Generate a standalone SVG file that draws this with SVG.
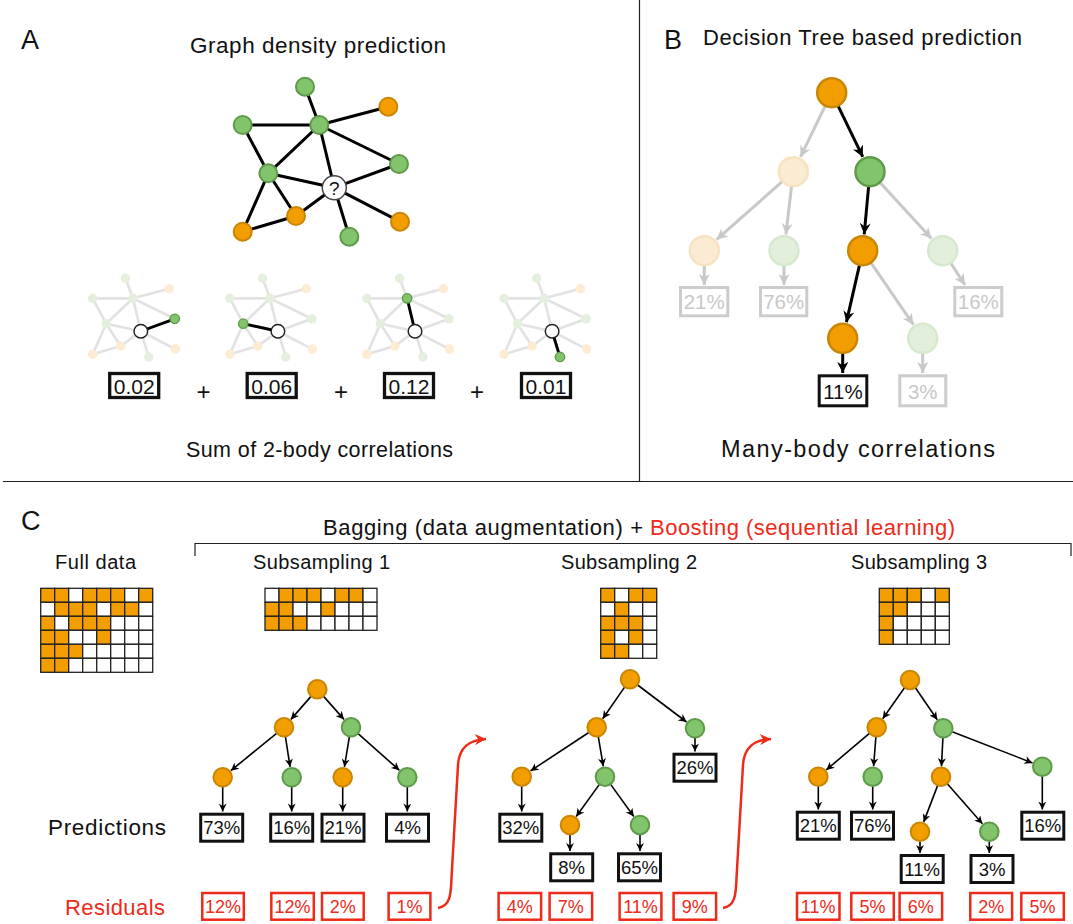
<svg xmlns="http://www.w3.org/2000/svg" xmlns:xlink="http://www.w3.org/1999/xlink" width="1073" height="924" viewBox="0 0 1073 924">
<style>
.t{font-family:"Liberation Sans",Arial,Helvetica,sans-serif;fill:#111}
.mid{text-anchor:middle}
.red{fill:#ee2a1a}
.no{fill:#f29d00;stroke:#c98600;stroke-width:2}
.ng{fill:#82c46c;stroke:#5e9a4a;stroke-width:2}
.bno{fill:#f29d00;stroke:#c98600;stroke-width:2.5}
.bng{fill:#82c46c;stroke:#5e9a4a;stroke-width:2.5}
.fo{fill:#fcebd3;stroke:#f8e2c0;stroke-width:2.5}
.fg{fill:#e2efdb;stroke:#d6e8cd;stroke-width:2.5}
.e{stroke:#000;stroke-width:1.6;fill:none;marker-end:url(#ah)}
.eb{stroke:#000;stroke-width:3;fill:none;marker-end:url(#ahB)}
.eg{stroke:#c8c8c8;stroke-width:3;fill:none;marker-end:url(#ahG)}
.box{fill:#fff;stroke:#111;stroke-width:3}
.gbox{fill:#fff;stroke:#cccccc;stroke-width:3}
.gtx{fill:#c8c8c8}
.rbox{fill:#fff;stroke:#ee2a1a;stroke-width:2.5}
.pct{font-size:18.5px;text-anchor:middle}
.rp{font-size:18px;text-anchor:middle;fill:#ee2a1a}
.cell{stroke:#222;stroke-width:1.3}
.o{fill:#f29d00}
.w{fill:#fff}
.ge{stroke:#000;stroke-width:3;fill:none}
.fe{stroke:#e2e2e2;stroke-width:5;fill:none}
.sfo{fill:#fdebd3}
.sfg{fill:#e4f0dd}
.line{stroke:#222;stroke-width:1.2;fill:none}
.vbox{fill:#fff;stroke:#111;stroke-width:3.3}
</style>
<defs>
<marker id="ah" viewBox="0 0 10 10" refX="10" refY="5" markerWidth="9" markerHeight="8" markerUnits="userSpaceOnUse" orient="auto"><path d="M0,0 L10,5 L0,10 L3,5 z" fill="#000"/></marker>
<marker id="ahB" viewBox="0 0 10 10" refX="10" refY="5" markerWidth="13" markerHeight="11" markerUnits="userSpaceOnUse" orient="auto"><path d="M0,0 L10,5 L0,10 L3,5 z" fill="#000"/></marker>
<marker id="ahG" viewBox="0 0 10 10" refX="10" refY="5" markerWidth="13" markerHeight="11" markerUnits="userSpaceOnUse" orient="auto"><path d="M0,0 L10,5 L0,10 L3,5 z" fill="#c8c8c8"/></marker>
<marker id="ahR" viewBox="0 0 10 10" refX="10" refY="5" markerWidth="13" markerHeight="11" markerUnits="userSpaceOnUse" orient="auto"><path d="M0,0 L10,5 L0,10 L3,5 z" fill="#ee2a1a"/></marker>
<path id="gEdges" d="M305,86.7L319.3,125 M319.3,125L388.3,106.7 M242.7,125L319.3,125 M242.7,125L268.3,173.3 M319.3,125L268.3,173.3 M319.3,125L334.3,187.7 M319.3,125L399,164 M268.3,173.3L334.3,187.7 M268.3,173.3L296,216 M268.3,173.3L242.7,231.7 M242.7,231.7L296,216 M296,216L334.3,187.7 M334.3,187.7L399,164 M334.3,187.7L400,221.7 M334.3,187.7L349.3,236.7"/>
<g id="fadedGraph">
<use xlink:href="#gEdges" class="fe"/>
<circle cx="305" cy="86.7" r="9" class="sfg"/>
<circle cx="388.3" cy="106.7" r="9" class="sfo"/>
<circle cx="242.7" cy="125" r="9" class="sfg"/>
<circle cx="319.3" cy="125" r="9" class="sfg"/>
<circle cx="399" cy="164" r="9" class="sfg"/>
<circle cx="268.3" cy="173.3" r="9" class="sfg"/>
<circle cx="296" cy="216" r="9" class="sfo"/>
<circle cx="400" cy="221.7" r="9" class="sfo"/>
<circle cx="242.7" cy="231.7" r="9" class="sfo"/>
<circle cx="349.3" cy="236.7" r="9" class="sfg"/>
</g>
</defs>
<rect width="1073" height="924" fill="#fff"/>

<g id="dividers">
<path class="line" d="M639.5,0V481.5 M3,481.5H1073"/>
<path class="line" d="M195,556V543.5H1071V556"/>
</g>

<g id="labels">
<text class="t" x="21" y="49" font-size="27">A</text>
<text class="t mid" x="318" y="53" font-size="22.5" textLength="256" lengthAdjust="spacing">Graph density prediction</text>
<text class="t mid" x="319.5" y="457" font-size="21.5" textLength="267" lengthAdjust="spacing">Sum of 2-body correlations</text>
<text class="t" x="664" y="49" font-size="27">B</text>
<text class="t" x="703" y="45" font-size="22" textLength="319" lengthAdjust="spacing">Decision Tree based prediction</text>
<text class="t mid" x="858" y="457" font-size="23.5" textLength="274" lengthAdjust="spacing">Many-body correlations</text>
<text class="t" x="21" y="530" font-size="27">C</text>
<text class="t" x="323" y="535" font-size="22" textLength="320" lengthAdjust="spacing">Bagging (data augmentation) +</text>
<text class="t red" x="650" y="535" font-size="22" textLength="305" lengthAdjust="spacing">Boosting (sequential learning)</text>
<text class="t mid" x="95.5" y="569" font-size="20" textLength="81" lengthAdjust="spacing">Full data</text>
<text class="t mid" x="321.5" y="569" font-size="20" textLength="137" lengthAdjust="spacing">Subsampling 1</text>
<text class="t mid" x="629" y="569" font-size="20" textLength="136" lengthAdjust="spacing">Subsampling 2</text>
<text class="t mid" x="919" y="569" font-size="20" textLength="136" lengthAdjust="spacing">Subsampling 3</text>
<text class="t" x="48" y="835" font-size="22.5" textLength="118" lengthAdjust="spacing">Predictions</text>
<text class="t red" x="65" y="915" font-size="22" textLength="100" lengthAdjust="spacing">Residuals</text>
</g>

<g id="graphA">
<use xlink:href="#gEdges" class="ge"/>
<g id="a-gT"><circle cx="305" cy="86.7" r="9" class="ng"/></g>
<g id="a-oTR"><circle cx="388.3" cy="106.7" r="9" class="no"/></g>
<g id="a-gL"><circle cx="242.7" cy="125" r="9" class="ng"/></g>
<g id="a-hub"><circle cx="319.3" cy="125" r="9" class="ng"/></g>
<g id="a-gR"><circle cx="399" cy="164" r="9" class="ng"/></g>
<g id="a-gML"><circle cx="268.3" cy="173.3" r="9" class="ng"/></g>
<g id="a-oM"><circle cx="296" cy="216" r="9" class="no"/></g>
<g id="a-oRB"><circle cx="400" cy="221.7" r="9" class="no"/></g>
<g id="a-oBL"><circle cx="242.7" cy="231.7" r="9" class="no"/></g>
<g id="a-gB"><circle cx="349.3" cy="236.7" r="9" class="ng"/></g>
<g id="a-Q"><circle cx="334.3" cy="187.7" r="12" fill="#fff" stroke="#444" stroke-width="1.5"/><text class="t mid" x="334.3" y="194.5" font-size="19">?</text></g>
</g>

<g id="pairs">
<g id="pair1" transform="translate(-34.7,232.7) scale(0.525)">
<use xlink:href="#fadedGraph"/>
<path d="M334.3,187.7L399,164" stroke="#000" stroke-width="5.5"/>
<circle cx="399" cy="164" r="9" fill="#82c46c" stroke="#5e9a4a" stroke-width="2.5"/>
<circle cx="334.3" cy="187.7" r="13" fill="#fff" stroke="#222" stroke-width="2.8"/>
</g>
<g id="pair2" transform="translate(102.4,232.7) scale(0.525)">
<use xlink:href="#fadedGraph"/>
<path d="M268.3,173.3L334.3,187.7" stroke="#000" stroke-width="5.5"/>
<circle cx="268.3" cy="173.3" r="9" fill="#82c46c" stroke="#5e9a4a" stroke-width="2.5"/>
<circle cx="334.3" cy="187.7" r="13" fill="#fff" stroke="#222" stroke-width="2.8"/>
</g>
<g id="pair3" transform="translate(239.5,232.7) scale(0.525)">
<use xlink:href="#fadedGraph"/>
<path d="M319.3,125L334.3,187.7" stroke="#000" stroke-width="5.5"/>
<circle cx="319.3" cy="125" r="9" fill="#82c46c" stroke="#5e9a4a" stroke-width="2.5"/>
<circle cx="334.3" cy="187.7" r="13" fill="#fff" stroke="#222" stroke-width="2.8"/>
</g>
<g id="pair4" transform="translate(376.6,232.7) scale(0.525)">
<use xlink:href="#fadedGraph"/>
<path d="M334.3,187.7L349.3,236.7" stroke="#000" stroke-width="5.5"/>
<circle cx="349.3" cy="236.7" r="9" fill="#82c46c" stroke="#5e9a4a" stroke-width="2.5"/>
<circle cx="334.3" cy="187.7" r="13" fill="#fff" stroke="#222" stroke-width="2.8"/>
</g>
</g>

<g id="sumValues">
<g id="v1"><rect x="109.7" y="373.5" width="49" height="24" class="vbox"/><text class="t mid" x="134.2" y="393.5" font-size="21">0.02</text></g>
<text class="t mid" x="203.5" y="400" font-size="24">+</text>
<g id="v2"><rect x="247.2" y="373.5" width="49" height="24" class="vbox"/><text class="t mid" x="271.7" y="393.5" font-size="21">0.06</text></g>
<text class="t mid" x="341" y="400" font-size="24">+</text>
<g id="v3"><rect x="384.5" y="373.5" width="49" height="24" class="vbox"/><text class="t mid" x="409" y="393.5" font-size="21">0.12</text></g>
<text class="t mid" x="477" y="400" font-size="24">+</text>
<g id="v4"><rect x="521.5" y="373.5" width="49" height="24" class="vbox"/><text class="t mid" x="546" y="393.5" font-size="21">0.01</text></g>
</g>

<g id="treeB-edges">
<path class="eg" d="M825.1,106.2L800.5,156.9"/>
<path class="eb" d="M838.2,106.2L862.8,156.9"/>
<path class="eg" d="M782.1,181.7L716.6,239.7"/>
<path class="eg" d="M791.5,186.6L785.9,234.3"/>
<path class="eb" d="M868.6,186.6L864.2,234.3"/>
<path class="eg" d="M880.2,182.7L931.5,238.6"/>
<path class="eg" d="M704.3,265.2V285"/>
<path class="eg" d="M784,265.2V285"/>
<path class="eg" d="M950.6,262.9L965,285"/>
<path class="eb" d="M859.4,265.3L846.4,322.2"/>
<path class="eg" d="M871.2,263.1L913.4,324.7"/>
<path class="eb" d="M842.7,352.8V373"/>
<path class="eg" d="M922.7,352.8V373"/>
</g>
<g id="treeB-nodes">
<g id="b-root"><circle cx="831.7" cy="92.7" r="14.5" class="bno"/></g>
<g id="b-l1f"><circle cx="793.3" cy="171.7" r="14.5" class="fo"/></g>
<g id="b-l1g"><circle cx="870" cy="171.7" r="14.5" class="bng"/></g>
<g id="b-m1"><circle cx="704.3" cy="250.7" r="14.5" class="fo"/></g>
<g id="b-m2"><circle cx="784" cy="250.7" r="14.5" class="fg"/></g>
<g id="b-m3"><circle cx="862.7" cy="250.7" r="14.5" class="bno"/></g>
<g id="b-m4"><circle cx="942.7" cy="250.7" r="14.5" class="fg"/></g>
<g id="b-n1"><circle cx="842.7" cy="338.3" r="14.5" class="bno"/></g>
<g id="b-n2"><circle cx="922.7" cy="338.3" r="14.5" class="fg"/></g>
<g id="b-box21"><rect x="680.5" y="287.5" width="47.3" height="28.3" class="gbox"/><text class="t mid gtx" x="704.2" y="309" font-size="20.5">21%</text></g>
<g id="b-box76"><rect x="760.5" y="287.5" width="46.3" height="28.3" class="gbox"/><text class="t mid gtx" x="783.7" y="309" font-size="20.5">76%</text></g>
<g id="b-box16"><rect x="954.8" y="287.5" width="47" height="28.3" class="gbox"/><text class="t mid gtx" x="978.3" y="309" font-size="20.5">16%</text></g>
<g id="b-box11"><rect x="819.2" y="375.8" width="47.6" height="30" class="box"/><text class="t mid" x="843" y="398.5" font-size="20.5">11%</text></g>
<g id="b-box3"><rect x="899.8" y="375.8" width="46" height="30" class="gbox"/><text class="t mid gtx" x="922.8" y="398.5" font-size="20.5">3%</text></g>
</g>

<g id="grids">
<g id="grid-full" class="cell">
<rect x="40.7" y="588.3" width="14" height="14" class="o"/><rect x="54.7" y="588.3" width="14" height="14" class="o"/><rect x="68.7" y="588.3" width="14" height="14" class="w"/><rect x="82.7" y="588.3" width="14" height="14" class="o"/><rect x="96.7" y="588.3" width="14" height="14" class="o"/><rect x="110.7" y="588.3" width="14" height="14" class="o"/><rect x="124.7" y="588.3" width="14" height="14" class="w"/><rect x="138.7" y="588.3" width="14" height="14" class="o"/>
<rect x="40.7" y="602.3" width="14" height="14" class="w"/><rect x="54.7" y="602.3" width="14" height="14" class="o"/><rect x="68.7" y="602.3" width="14" height="14" class="o"/><rect x="82.7" y="602.3" width="14" height="14" class="o"/><rect x="96.7" y="602.3" width="14" height="14" class="w"/><rect x="110.7" y="602.3" width="14" height="14" class="o"/><rect x="124.7" y="602.3" width="14" height="14" class="o"/><rect x="138.7" y="602.3" width="14" height="14" class="w"/>
<rect x="40.7" y="616.3" width="14" height="14" class="o"/><rect x="54.7" y="616.3" width="14" height="14" class="w"/><rect x="68.7" y="616.3" width="14" height="14" class="o"/><rect x="82.7" y="616.3" width="14" height="14" class="o"/><rect x="96.7" y="616.3" width="14" height="14" class="o"/><rect x="110.7" y="616.3" width="14" height="14" class="w"/><rect x="124.7" y="616.3" width="14" height="14" class="w"/><rect x="138.7" y="616.3" width="14" height="14" class="w"/>
<rect x="40.7" y="630.3" width="14" height="14" class="o"/><rect x="54.7" y="630.3" width="14" height="14" class="o"/><rect x="68.7" y="630.3" width="14" height="14" class="w"/><rect x="82.7" y="630.3" width="14" height="14" class="w"/><rect x="96.7" y="630.3" width="14" height="14" class="o"/><rect x="110.7" y="630.3" width="14" height="14" class="w"/><rect x="124.7" y="630.3" width="14" height="14" class="w"/><rect x="138.7" y="630.3" width="14" height="14" class="w"/>
<rect x="40.7" y="644.3" width="14" height="14" class="o"/><rect x="54.7" y="644.3" width="14" height="14" class="o"/><rect x="68.7" y="644.3" width="14" height="14" class="o"/><rect x="82.7" y="644.3" width="14" height="14" class="w"/><rect x="96.7" y="644.3" width="14" height="14" class="w"/><rect x="110.7" y="644.3" width="14" height="14" class="w"/><rect x="124.7" y="644.3" width="14" height="14" class="w"/><rect x="138.7" y="644.3" width="14" height="14" class="w"/>
<rect x="40.7" y="658.3" width="14" height="14" class="o"/><rect x="54.7" y="658.3" width="14" height="14" class="o"/><rect x="68.7" y="658.3" width="14" height="14" class="w"/><rect x="82.7" y="658.3" width="14" height="14" class="w"/><rect x="96.7" y="658.3" width="14" height="14" class="w"/><rect x="110.7" y="658.3" width="14" height="14" class="w"/><rect x="124.7" y="658.3" width="14" height="14" class="w"/><rect x="138.7" y="658.3" width="14" height="14" class="w"/>
</g>
<g id="grid-s1" class="cell">
<rect x="265" y="588.3" width="14" height="14" class="w"/><rect x="279" y="588.3" width="14" height="14" class="o"/><rect x="293" y="588.3" width="14" height="14" class="o"/><rect x="307" y="588.3" width="14" height="14" class="o"/><rect x="321" y="588.3" width="14" height="14" class="w"/><rect x="335" y="588.3" width="14" height="14" class="o"/><rect x="349" y="588.3" width="14" height="14" class="o"/><rect x="363" y="588.3" width="14" height="14" class="w"/>
<rect x="265" y="602.3" width="14" height="14" class="o"/><rect x="279" y="602.3" width="14" height="14" class="o"/><rect x="293" y="602.3" width="14" height="14" class="w"/><rect x="307" y="602.3" width="14" height="14" class="w"/><rect x="321" y="602.3" width="14" height="14" class="o"/><rect x="335" y="602.3" width="14" height="14" class="w"/><rect x="349" y="602.3" width="14" height="14" class="w"/><rect x="363" y="602.3" width="14" height="14" class="w"/>
<rect x="265" y="616.3" width="14" height="14" class="o"/><rect x="279" y="616.3" width="14" height="14" class="o"/><rect x="293" y="616.3" width="14" height="14" class="o"/><rect x="307" y="616.3" width="14" height="14" class="w"/><rect x="321" y="616.3" width="14" height="14" class="w"/><rect x="335" y="616.3" width="14" height="14" class="w"/><rect x="349" y="616.3" width="14" height="14" class="w"/><rect x="363" y="616.3" width="14" height="14" class="w"/>
</g>
<g id="grid-s2" class="cell">
<rect x="600.7" y="588.3" width="14" height="14" class="o"/><rect x="614.7" y="588.3" width="14" height="14" class="w"/><rect x="628.7" y="588.3" width="14" height="14" class="o"/><rect x="642.7" y="588.3" width="14" height="14" class="o"/>
<rect x="600.7" y="602.3" width="14" height="14" class="w"/><rect x="614.7" y="602.3" width="14" height="14" class="o"/><rect x="628.7" y="602.3" width="14" height="14" class="w"/><rect x="642.7" y="602.3" width="14" height="14" class="w"/>
<rect x="600.7" y="616.3" width="14" height="14" class="o"/><rect x="614.7" y="616.3" width="14" height="14" class="o"/><rect x="628.7" y="616.3" width="14" height="14" class="o"/><rect x="642.7" y="616.3" width="14" height="14" class="w"/>
<rect x="600.7" y="630.3" width="14" height="14" class="o"/><rect x="614.7" y="630.3" width="14" height="14" class="w"/><rect x="628.7" y="630.3" width="14" height="14" class="o"/><rect x="642.7" y="630.3" width="14" height="14" class="w"/>
<rect x="600.7" y="644.3" width="14" height="14" class="o"/><rect x="614.7" y="644.3" width="14" height="14" class="o"/><rect x="628.7" y="644.3" width="14" height="14" class="w"/><rect x="642.7" y="644.3" width="14" height="14" class="w"/>
</g>
<g id="grid-s3" class="cell">
<rect x="879.3" y="588.3" width="14" height="14" class="o"/><rect x="893.3" y="588.3" width="14" height="14" class="o"/><rect x="907.3" y="588.3" width="14" height="14" class="o"/><rect x="921.3" y="588.3" width="14" height="14" class="w"/><rect x="935.3" y="588.3" width="14" height="14" class="o"/>
<rect x="879.3" y="602.3" width="14" height="14" class="o"/><rect x="893.3" y="602.3" width="14" height="14" class="o"/><rect x="907.3" y="602.3" width="14" height="14" class="w"/><rect x="921.3" y="602.3" width="14" height="14" class="w"/><rect x="935.3" y="602.3" width="14" height="14" class="w"/>
<rect x="879.3" y="616.3" width="14" height="14" class="o"/><rect x="893.3" y="616.3" width="14" height="14" class="w"/><rect x="907.3" y="616.3" width="14" height="14" class="w"/><rect x="921.3" y="616.3" width="14" height="14" class="w"/><rect x="935.3" y="616.3" width="14" height="14" class="w"/>
<rect x="879.3" y="630.3" width="14" height="14" class="o"/><rect x="893.3" y="630.3" width="14" height="14" class="w"/><rect x="907.3" y="630.3" width="14" height="14" class="w"/><rect x="921.3" y="630.3" width="14" height="14" class="w"/><rect x="935.3" y="630.3" width="14" height="14" class="w"/>
</g>
</g>

<g id="connectors">
<path class="e" d="M311,696.4L290.9,719.4"/>
<path class="e" d="M323.6,696.4L344,719.4"/>
<path class="e" d="M276.6,733.3L230.8,770.7"/>
<path class="e" d="M285.4,736.7L290.1,766.9"/>
<path class="e" d="M349.4,736.7L344.4,766.9"/>
<path class="e" d="M358.1,733.6L399.4,770.3"/>
<path class="e" d="M222.7,786.8V811.5"/>
<path class="e" d="M291.7,786.8V811.5"/>
<path class="e" d="M342.7,786.8V811.5"/>
<path class="e" d="M407.3,786.8V811.5"/>

<path class="e" d="M624.6,687.1L602.7,718.7"/>
<path class="e" d="M637.6,685L686.6,722"/>
<path class="e" d="M588.8,732.5L530.5,770.9"/>
<path class="e" d="M598.3,736.7L603.3,766.3"/>
<path class="e" d="M599.4,784.4L576.2,816.5"/>
<path class="e" d="M610.6,784.4L633.8,816.5"/>
<path class="e" d="M695,737.8V751.5"/>
<path class="e" d="M521.7,786.2V811.5"/>
<path class="e" d="M570,834.5V851"/>
<path class="e" d="M640,834.5V851"/>

<path class="e" d="M904.5,687.8L882.7,718.7"/>
<path class="e" d="M915.4,687.8L937.3,719.7"/>
<path class="e" d="M869.4,733.4L826.3,769.9"/>
<path class="e" d="M875.9,736.8L873.6,766.2"/>
<path class="e" d="M942.9,737.8L941.5,766.2"/>
<path class="e" d="M952.2,731.7L1032.5,762.9"/>
<path class="e" d="M937.6,785.6L923.7,821.9"/>
<path class="e" d="M947.3,783.8L982.4,823.8"/>
<path class="e" d="M818.3,786.2V809.5"/>
<path class="e" d="M872.7,786.2V809.5"/>
<path class="e" d="M1042.3,776.2V809.5"/>
<path class="e" d="M920,841.2V853"/>
<path class="e" d="M989.3,841.2V853"/>

<path d="M438,908 C450,906 451,895 451.5,878 L458,765 C459,748 468,740 486,739" stroke="#ee2a1a" stroke-width="2.5" fill="none" marker-end="url(#ahR)"/>
<path d="M723,908 C735,906 736,895 736.5,878 L743,765 C744,748 753,740 771,739" stroke="#ee2a1a" stroke-width="2.5" fill="none" marker-end="url(#ahR)"/>
</g>

<g id="tree1">
<g id="t1-root"><circle cx="317.3" cy="689.3" r="9.3" class="no"/></g>
<g id="t1-a"><circle cx="284" cy="727.3" r="9.3" class="no"/></g>
<g id="t1-b"><circle cx="351" cy="727.3" r="9.3" class="ng"/></g>
<g id="t1-c1"><circle cx="222.7" cy="777.3" r="9.3" class="no"/></g>
<g id="t1-c2"><circle cx="291.7" cy="777.3" r="9.3" class="ng"/></g>
<g id="t1-c3"><circle cx="342.7" cy="777.3" r="9.3" class="no"/></g>
<g id="t1-c4"><circle cx="407.3" cy="777.3" r="9.3" class="ng"/></g>
<g id="t1-p1"><rect x="200.7" y="814.2" width="42" height="27" class="box"/><text class="t pct" x="221.7" y="834.3">73%</text></g>
<g id="t1-p2"><rect x="270.7" y="814.2" width="42" height="27" class="box"/><text class="t pct" x="291.7" y="834.3">16%</text></g>
<g id="t1-p3"><rect x="322" y="814.2" width="42" height="27" class="box"/><text class="t pct" x="343" y="834.3">21%</text></g>
<g id="t1-p4"><rect x="386.5" y="814.2" width="42" height="27" class="box"/><text class="t pct" x="407.5" y="834.3">4%</text></g>
</g>

<g id="tree2">
<g id="t2-root"><circle cx="630" cy="679.3" r="9.3" class="no"/></g>
<g id="t2-a"><circle cx="596.7" cy="727.3" r="9.3" class="no"/></g>
<g id="t2-b"><circle cx="695" cy="728.3" r="9.3" class="ng"/></g>
<g id="t2-c1"><circle cx="521.7" cy="776.7" r="9.3" class="no"/></g>
<g id="t2-c2"><circle cx="605" cy="776.7" r="9.3" class="ng"/></g>
<g id="t2-d1"><circle cx="570" cy="825" r="9.3" class="no"/></g>
<g id="t2-d2"><circle cx="640" cy="825" r="9.3" class="ng"/></g>
<g id="t2-p26"><rect x="674" y="754.2" width="42" height="27" class="box"/><text class="t pct" x="695" y="774.3">26%</text></g>
<g id="t2-p32"><rect x="499.8" y="814.2" width="42" height="27" class="box"/><text class="t pct" x="520.8" y="834.3">32%</text></g>
<g id="t2-p8"><rect x="550.7" y="853.8" width="42" height="27" class="box"/><text class="t pct" x="571.7" y="874">8%</text></g>
<g id="t2-p65"><rect x="618.5" y="853.8" width="42" height="27" class="box"/><text class="t pct" x="639.5" y="874">65%</text></g>
</g>

<g id="tree3">
<g id="t3-root"><circle cx="910" cy="680" r="9.3" class="no"/></g>
<g id="t3-a"><circle cx="876.7" cy="727.3" r="9.3" class="no"/></g>
<g id="t3-b"><circle cx="943.3" cy="728.3" r="9.3" class="ng"/></g>
<g id="t3-c1"><circle cx="818.3" cy="776.7" r="9.3" class="no"/></g>
<g id="t3-c2"><circle cx="872.7" cy="776.7" r="9.3" class="ng"/></g>
<g id="t3-c3"><circle cx="941" cy="776.7" r="9.3" class="no"/></g>
<g id="t3-c4"><circle cx="1042.3" cy="766.7" r="9.3" class="ng"/></g>
<g id="t3-d1"><circle cx="920" cy="831.7" r="9.3" class="no"/></g>
<g id="t3-d2"><circle cx="989.3" cy="831.7" r="9.3" class="ng"/></g>
<g id="t3-p21"><rect x="797.3" y="812.2" width="42" height="27" class="box"/><text class="t pct" x="818.3" y="832.3">21%</text></g>
<g id="t3-p76"><rect x="851.5" y="812.2" width="42" height="27" class="box"/><text class="t pct" x="872.5" y="832.3">76%</text></g>
<g id="t3-p16"><rect x="1021.8" y="812.2" width="42" height="27" class="box"/><text class="t pct" x="1042.8" y="832.3">16%</text></g>
<g id="t3-p11"><rect x="901.2" y="855.5" width="42" height="27" class="box"/><text class="t pct" x="922.2" y="875.8">11%</text></g>
<g id="t3-p3"><rect x="971" y="855.5" width="42" height="27" class="box"/><text class="t pct" x="992" y="875.8">3%</text></g>
</g>

<g id="residuals">
<g id="r1"><rect x="202.3" y="893" width="41.5" height="26.7" class="rbox"/><text class="t rp" x="223" y="913">12%</text></g>
<g id="r2"><rect x="271.3" y="893" width="42.5" height="26.7" class="rbox"/><text class="t rp" x="292.5" y="913">12%</text></g>
<g id="r3"><rect x="322" y="893" width="41.7" height="26.7" class="rbox"/><text class="t rp" x="342.8" y="913">2%</text></g>
<g id="r4"><rect x="388.6" y="893" width="41.8" height="26.7" class="rbox"/><text class="t rp" x="409.5" y="913">1%</text></g>
<g id="r5"><rect x="498.6" y="893" width="42.5" height="26.7" class="rbox"/><text class="t rp" x="519.8" y="913">4%</text></g>
<g id="r6"><rect x="549.6" y="893" width="42.5" height="26.7" class="rbox"/><text class="t rp" x="570.8" y="913">7%</text></g>
<g id="r7"><rect x="619.6" y="893" width="41.8" height="26.7" class="rbox"/><text class="t rp" x="640.5" y="913">11%</text></g>
<g id="r8"><rect x="673.6" y="893" width="42.5" height="26.7" class="rbox"/><text class="t rp" x="694.8" y="913">9%</text></g>
<g id="r9"><rect x="797" y="893" width="42.5" height="26.7" class="rbox"/><text class="t rp" x="818.2" y="913">11%</text></g>
<g id="r10"><rect x="851.3" y="893" width="42.5" height="26.7" class="rbox"/><text class="t rp" x="872.5" y="913">5%</text></g>
<g id="r11"><rect x="899.6" y="893" width="42.5" height="26.7" class="rbox"/><text class="t rp" x="920.8" y="913">6%</text></g>
<g id="r12"><rect x="970.3" y="893" width="41.8" height="26.7" class="rbox"/><text class="t rp" x="991.2" y="913">2%</text></g>
<g id="r13"><rect x="1021.3" y="893" width="42.5" height="26.7" class="rbox"/><text class="t rp" x="1042.5" y="913">5%</text></g>
</g>
</svg>
